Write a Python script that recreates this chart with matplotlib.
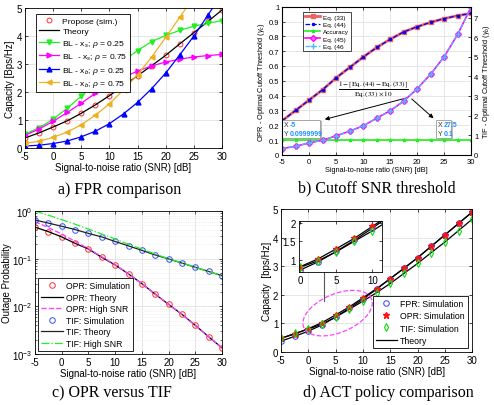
import numpy as np
import matplotlib
matplotlib.use('Agg')
import matplotlib.pyplot as plt
from matplotlib.patches import Rectangle

plt.rcParams['font.family'] = ['Liberation Sans', 'DejaVu Sans']
plt.rcParams['mathtext.fontset'] = 'custom'
plt.rcParams['mathtext.rm'] = 'Liberation Sans'
plt.rcParams['mathtext.it'] = 'Liberation Sans:italic'
plt.rcParams['axes.unicode_minus'] = False

# ---- data ----
snr = [-5, -2.5, 0, 2.5, 5, 7.5, 10, 12.5, 15, 17.5, 20, 22.5, 25, 27.5, 30]

# a) FPR comparison
propose_sim = [0.36, 0.54, 0.75, 0.97, 1.24, 1.54, 1.87, 2.22, 2.58, 2.94, 3.31, 3.72, 4.12, 4.52, 4.93]
bl_xs_025 = [0.50, 0.72, 1.03, 1.42, 1.85, 2.30, 2.72, 3.12, 3.48, 3.80, 4.02, 4.20, 4.35, 4.45, 4.55]
bl_xs_075 = [0.45, 0.68, 0.95, 1.27, 1.60, 1.95, 2.25, 2.52, 2.75, 2.93, 3.07, 3.17, 3.25, 3.30, 3.34]
bl_xb_025 = [0.07, 0.10, 0.16, 0.25, 0.40, 0.60, 0.87, 1.22, 1.63, 2.12, 2.68, 3.33, 4.00, 4.75, 5.50]
bl_xb_075 = [0.17, 0.24, 0.38, 0.57, 0.83, 1.17, 1.58, 2.08, 2.62, 3.25, 3.95, 4.67, 5.40, 6.10, 6.80]

# b) cutoff SNR threshold
eq33 = [0.23, 0.30, 0.37, 0.44, 0.52, 0.59, 0.66, 0.725, 0.78, 0.83, 0.865, 0.895, 0.92, 0.94, 0.955]
eq44 = [0.23, 0.30, 0.37, 0.44, 0.52, 0.59, 0.66, 0.725, 0.78, 0.83, 0.865, 0.895, 0.92, 0.94, 0.955]
accuracy = [0.1] * 15
eq45 = [0.32, 0.44, 0.61, 0.75, 0.97, 1.21, 1.48, 1.87, 2.25, 2.74, 3.37, 4.12, 5.01, 6.15, 7.55]
eq46 = [0.32, 0.44, 0.61, 0.75, 0.97, 1.21, 1.48, 1.87, 2.25, 2.74, 3.37, 4.12, 5.01, 6.15, 7.55]

# c) OPR versus TIF
opr_sim = [0.46, 0.37, 0.287, 0.21, 0.16, 0.107, 0.074, 0.048, 0.030, 0.018, 0.011, 0.0068, 0.0040, 0.0023, 0.00134]
opr_high = [0.60, 0.45, 0.33, 0.23, 0.163, 0.11, 0.075, 0.048, 0.030, 0.018, 0.011, 0.0068, 0.0040, 0.0023, 0.00134]
tif_sim = [0.65, 0.56, 0.48, 0.41, 0.34, 0.287, 0.23, 0.186, 0.15, 0.12, 0.099, 0.081, 0.066, 0.054, 0.044]
tif_high = [1.0, 0.82, 0.66, 0.53, 0.42, 0.33, 0.26, 0.20, 0.16, 0.125, 0.10, 0.082, 0.066, 0.054, 0.044]

# d) ACT policy comparison
fpr_cap = [0.38, 0.55, 0.73, 0.95, 1.23, 1.53, 1.85, 2.20, 2.57, 2.93, 3.30, 3.70, 4.10, 4.50, 4.90]
opr_cap = [0.48, 0.63, 0.82, 1.03, 1.30, 1.58, 1.90, 2.22, 2.57, 2.93, 3.30, 3.70, 4.10, 4.50, 4.90]
tif_cap = [0.48, 0.65, 0.80, 0.98, 1.22, 1.50, 1.78, 2.08, 2.40, 2.75, 3.10, 3.48, 3.85, 4.25, 4.65]

xlab = 'Signal-to-noise ratio (SNR) [dB]'
GREEN = '#22ee22'
ORANGE = '#edb120'


def style(ax, fs, right=True):
    ax.grid(True, color='#e2e2e2', lw=0.6)
    ax.set_axisbelow(True)
    ax.tick_params(direction='in', top=True, right=right, labelsize=fs,
                   length=2.5, width=0.5, pad=2)
    for s in ax.spines.values():
        s.set_linewidth(0.6)


fig = plt.figure(figsize=(4.94, 4.06), dpi=100)

# ---------------- a ----------------
ax = fig.add_axes([0.0506, 0.633, 0.399, 0.345])
ax.plot(snr, propose_sim, 'o', mfc='none', mec='#ff3030', ms=3.5, mew=0.7, label='Propose (sim.)')
ax.plot(snr, propose_sim, '-', color='black', lw=0.9, label='Theory')
ax.plot(snr, bl_xs_025, '-v', color=GREEN, ms=3.5, lw=0.9, label=r'BL - x$_s$; $\rho$ = 0.25')
ax.plot(snr, bl_xs_075, '->', color='#ff00ff', ms=3.5, lw=0.9, label=r'BL  - x$_s$; $\rho$ = 0.75')
ax.plot(snr, bl_xb_025, '-^', color='#0000ff', ms=3.5, lw=0.9, label=r'BL - x$_b$; $\rho$ = 0.25')
ax.plot(snr, bl_xb_075, '-<', color=ORANGE, ms=3.5, lw=0.9, label=r'BL - x$_b$; $\rho$ = 0.75')
ax.set_xlim(-5, 30)
ax.set_ylim(0, 5)
ax.set_xticks(range(-5, 31, 5))
ax.set_yticks(range(0, 6))
style(ax, 7)
ax.set_xlabel(xlab, fontsize=7, labelpad=1)
ax.set_ylabel('Capacity [Bps/Hz]', fontsize=7, labelpad=1)
leg = ax.legend(loc='upper left', bbox_to_anchor=(0.035, 0.985), fontsize=6.1, fancybox=False,
                edgecolor='black', framealpha=1, handlelength=2.4, borderpad=0.3,
                labelspacing=0.3, handletextpad=0.4)
leg.get_frame().set_linewidth(0.6)

# ---------------- b ----------------
bx = fig.add_axes([0.571, 0.616, 0.383, 0.365])
bx2 = bx.twinx()
h1, = bx.plot(snr, eq33, '-s', color='#f06060', lw=2.0, ms=3, label='Eq. (33)')
h2, = bx.plot(snr, eq44, '--.', color='#0000ee', lw=0.9, ms=3, label='Eq. (44)')
h3, = bx.plot(snr, accuracy, '-*', color=GREEN, lw=1.2, ms=2.5, label='Accuracy')
h4, = bx2.plot(snr, eq45, '-D', color='#ff00ff', mfc='#ff66ff', lw=1.2, ms=3, label='Eq. (45)')
h5, = bx2.plot(snr, eq46, '--+', color='#4db8ff', lw=0.9, ms=4, label='Eq. (46')
bx.set_xlim(-5, 30)
bx.set_ylim(0, 1)
bx2.set_ylim(0, 7.55)
bx.set_xticks(range(-5, 31, 5))
bx.set_yticks(np.arange(0, 1.01, 0.1))
bx.set_yticklabels(['0', '0.1', '0.2', '0.3', '0.4', '0.5', '0.6', '0.7', '0.8', '0.9', '1'])
bx2.set_yticks(range(0, 8))
style(bx, 5.5, right=False)
bx2.tick_params(direction='in', labelsize=5.5, length=2.5, width=0.5, pad=2)
bx.set_xlabel(xlab, fontsize=5.3, labelpad=1)
bx.set_ylabel(r'OPR - Optimal Cutoff Threshold ($\gamma_c$)', fontsize=5.3, labelpad=1)
bx2.set_ylabel(r'TIF - Optimal Cutoff Threshold ($\gamma_b$)', fontsize=5.3, labelpad=2)
leg = bx.legend(handles=[h1, h2, h3, h4, h5], loc='upper left', bbox_to_anchor=(0.095, 0.985),
                fontsize=4.6, fancybox=False, edgecolor='black', framealpha=1,
                handlelength=2.4, borderpad=0.3, labelspacing=0.3, handletextpad=0.4)
leg.get_frame().set_linewidth(0.5)
bx.text(11.9, 0.447, r'$\frac{1-[\mathrm{Eq.(44)}-\mathrm{Eq.(33)}]}{\mathrm{Eq.(33)}\times 10}$',
        fontsize=7.5, ha='center', va='center', math_fontfamily='stix')
for tip in [(2.4, 0.235), (23.4, 0.235)]:
    bx.annotate('', xy=tip, xytext=(18.6, 0.39),
                arrowprops=dict(arrowstyle='-|>', color='black', lw=0.7, mutation_scale=6))

# data tips
for (x0, w, xv, yv) in [(-5.0, 7.0, '-5', '0.0999999'), (23.5, 2.7, '27.5', '0.1')]:
    bx.add_patch(Rectangle((x0 + 0.45, 0.108), w, 0.122, fc='#bbbbbb', ec='none', zorder=5))
    bx.add_patch(Rectangle((x0, 0.115), w, 0.122, fc='white', ec='#999999', lw=0.6, zorder=6))
    bx.text(x0 + 0.3, 0.205, 'X', fontsize=5, color='#333333', va='center', zorder=7)
    bx.text(x0 + 0.3, 0.145, 'Y', fontsize=5, color='#333333', va='center', zorder=7)
    bx.text(x0 + 1.4, 0.205, xv, fontsize=5, color='#1e90ff', va='center',
            fontweight='bold', zorder=7)
    bx.text(x0 + 1.4, 0.145, yv, fontsize=5, color='#1e90ff', va='center',
            fontweight='bold', zorder=7)

# ---------------- c ----------------
cx = fig.add_axes([0.0709, 0.1256, 0.3785, 0.352])
cx.plot(snr, opr_sim, 'o', mfc='none', mec='#ff3030', ms=4, mew=0.7, label='OPR: Simulation')
cx.plot(snr, opr_sim, '-', color='black', lw=0.9, label='OPR: Theory')
cx.plot(snr, opr_high, '--', color='#ff44ff', lw=1.0, label='OPR: High SNR')
cx.plot(snr, tif_sim, 'o', mfc='none', mec='#3050ff', ms=4, mew=0.7, label='TIF: Simulation')
cx.plot(snr, tif_sim, '-', color='#222222', lw=0.9, label='TIF: Theory')
cx.plot(snr, tif_high, '-.', color=GREEN, lw=0.9, label='TIF: High SNR')
cx.set_yscale('log')
cx.set_xlim(-5, 30)
cx.set_ylim(1e-3, 1)
cx.set_xticks(range(-5, 31, 5))
style(cx, 7)
cx.grid(True, which='minor', axis='y', color='#e6e6e6', lw=0.5, ls=':')
cx.tick_params(which='minor', direction='in', right=True, length=1.5, width=0.4)
cx.set_xlabel(xlab, fontsize=7, labelpad=1)
cx.set_ylabel('Outage Probability', fontsize=7, labelpad=0)
leg = cx.legend(loc='lower left', fontsize=6.2, fancybox=False, edgecolor='black',
                framealpha=1, handlelength=2.6, borderpad=0.3, labelspacing=0.3,
                handletextpad=0.3, borderaxespad=0.4)
leg.get_frame().set_linewidth(0.6)

# ---------------- d ----------------
dx = fig.add_axes([0.569, 0.1305, 0.387, 0.352])
for ys in (fpr_cap, opr_cap, tif_cap):
    dx.plot(snr, ys, '-', color='black', lw=0.9)
dx.plot(snr, fpr_cap, 'o', mfc='none', mec='#3040ff', ms=4, mew=0.7, label='FPR: Simulation')
dx.plot(snr, opr_cap, '*', color='#ff1010', ms=5, label='OPR: Simulation')
dx.plot(snr, tif_cap, 'd', mfc='none', mec='#10dd10', ms=4, mew=0.8, label='TIF: Simulation')
dx.plot([], [], '-', color='black', lw=0.9, label='Theory')
dx.set_xlim(-5, 30)
dx.set_ylim(0, 5)
dx.set_xticks(range(-5, 31, 5))
dx.set_yticks(range(0, 6))
style(dx, 7)
dx.set_xlabel(xlab, fontsize=7, labelpad=1)
dx.set_ylabel('Capacity  [bps/Hz]', fontsize=7, labelpad=1)
leg = dx.legend(loc='lower right', fontsize=6.3, fancybox=False, edgecolor='black',
                framealpha=1, handlelength=2.4, borderpad=0.35, labelspacing=0.35,
                handletextpad=0.4, borderaxespad=0.5)
leg.get_frame().set_linewidth(0.6)

# tilted dashed ellipse marking the zoomed region
t = np.linspace(0, 2 * np.pi, 200)
ex = 5.35 + 6.2 * np.cos(t) - 1.38 * np.sin(t)
ey = 1.36 + 0.5 * np.cos(t) + 0.62 * np.sin(t)
dx.plot(ex, ey, '--', color='#ff44ff', lw=0.9)
dx.plot([2.9, 2.9], [1.8, 2.8], '-', color='#555555', lw=0.8)

ix = fig.add_axes([0.605, 0.328, 0.168, 0.126])
for ys in (fpr_cap, opr_cap, tif_cap):
    ix.plot(snr, ys, '-', color='black', lw=0.9)
ix.plot(snr, fpr_cap, 'o', mfc='none', mec='#3040ff', ms=4, mew=0.7)
ix.plot(snr, opr_cap, '*', color='#ff1010', ms=5)
ix.plot(snr, tif_cap, 'd', mfc='none', mec='#10dd10', ms=4, mew=0.8)
ix.set_xlim(-0.2, 11.3)
ix.set_ylim(0.68, 2.05)
ix.set_xticks([0, 5, 10])
ix.set_yticks([1, 1.5, 2])
ix.set_yticklabels(['1', '1.5', '2'])
ix.tick_params(direction='in', top=True, right=True, labelsize=7, length=2, width=0.5, pad=2)
for s in ix.spines.values():
    s.set_linewidth(0.6)

# captions
cap = dict(fontsize=11.5, family='Liberation Serif', ha='center', va='center')
fig.text(120 / 494, 1 - 190 / 406, 'a) FPR comparison', **cap)
fig.text(377 / 494, 1 - 188 / 406, 'b) Cutoff SNR threshold', **cap)
fig.text(112 / 494, 1 - 393 / 406, 'c) OPR versus TIF', **cap)
fig.text(388 / 494, 1 - 393 / 406, 'd) ACT policy comparison', **cap)

fig.savefig('out.png', dpi=100)
